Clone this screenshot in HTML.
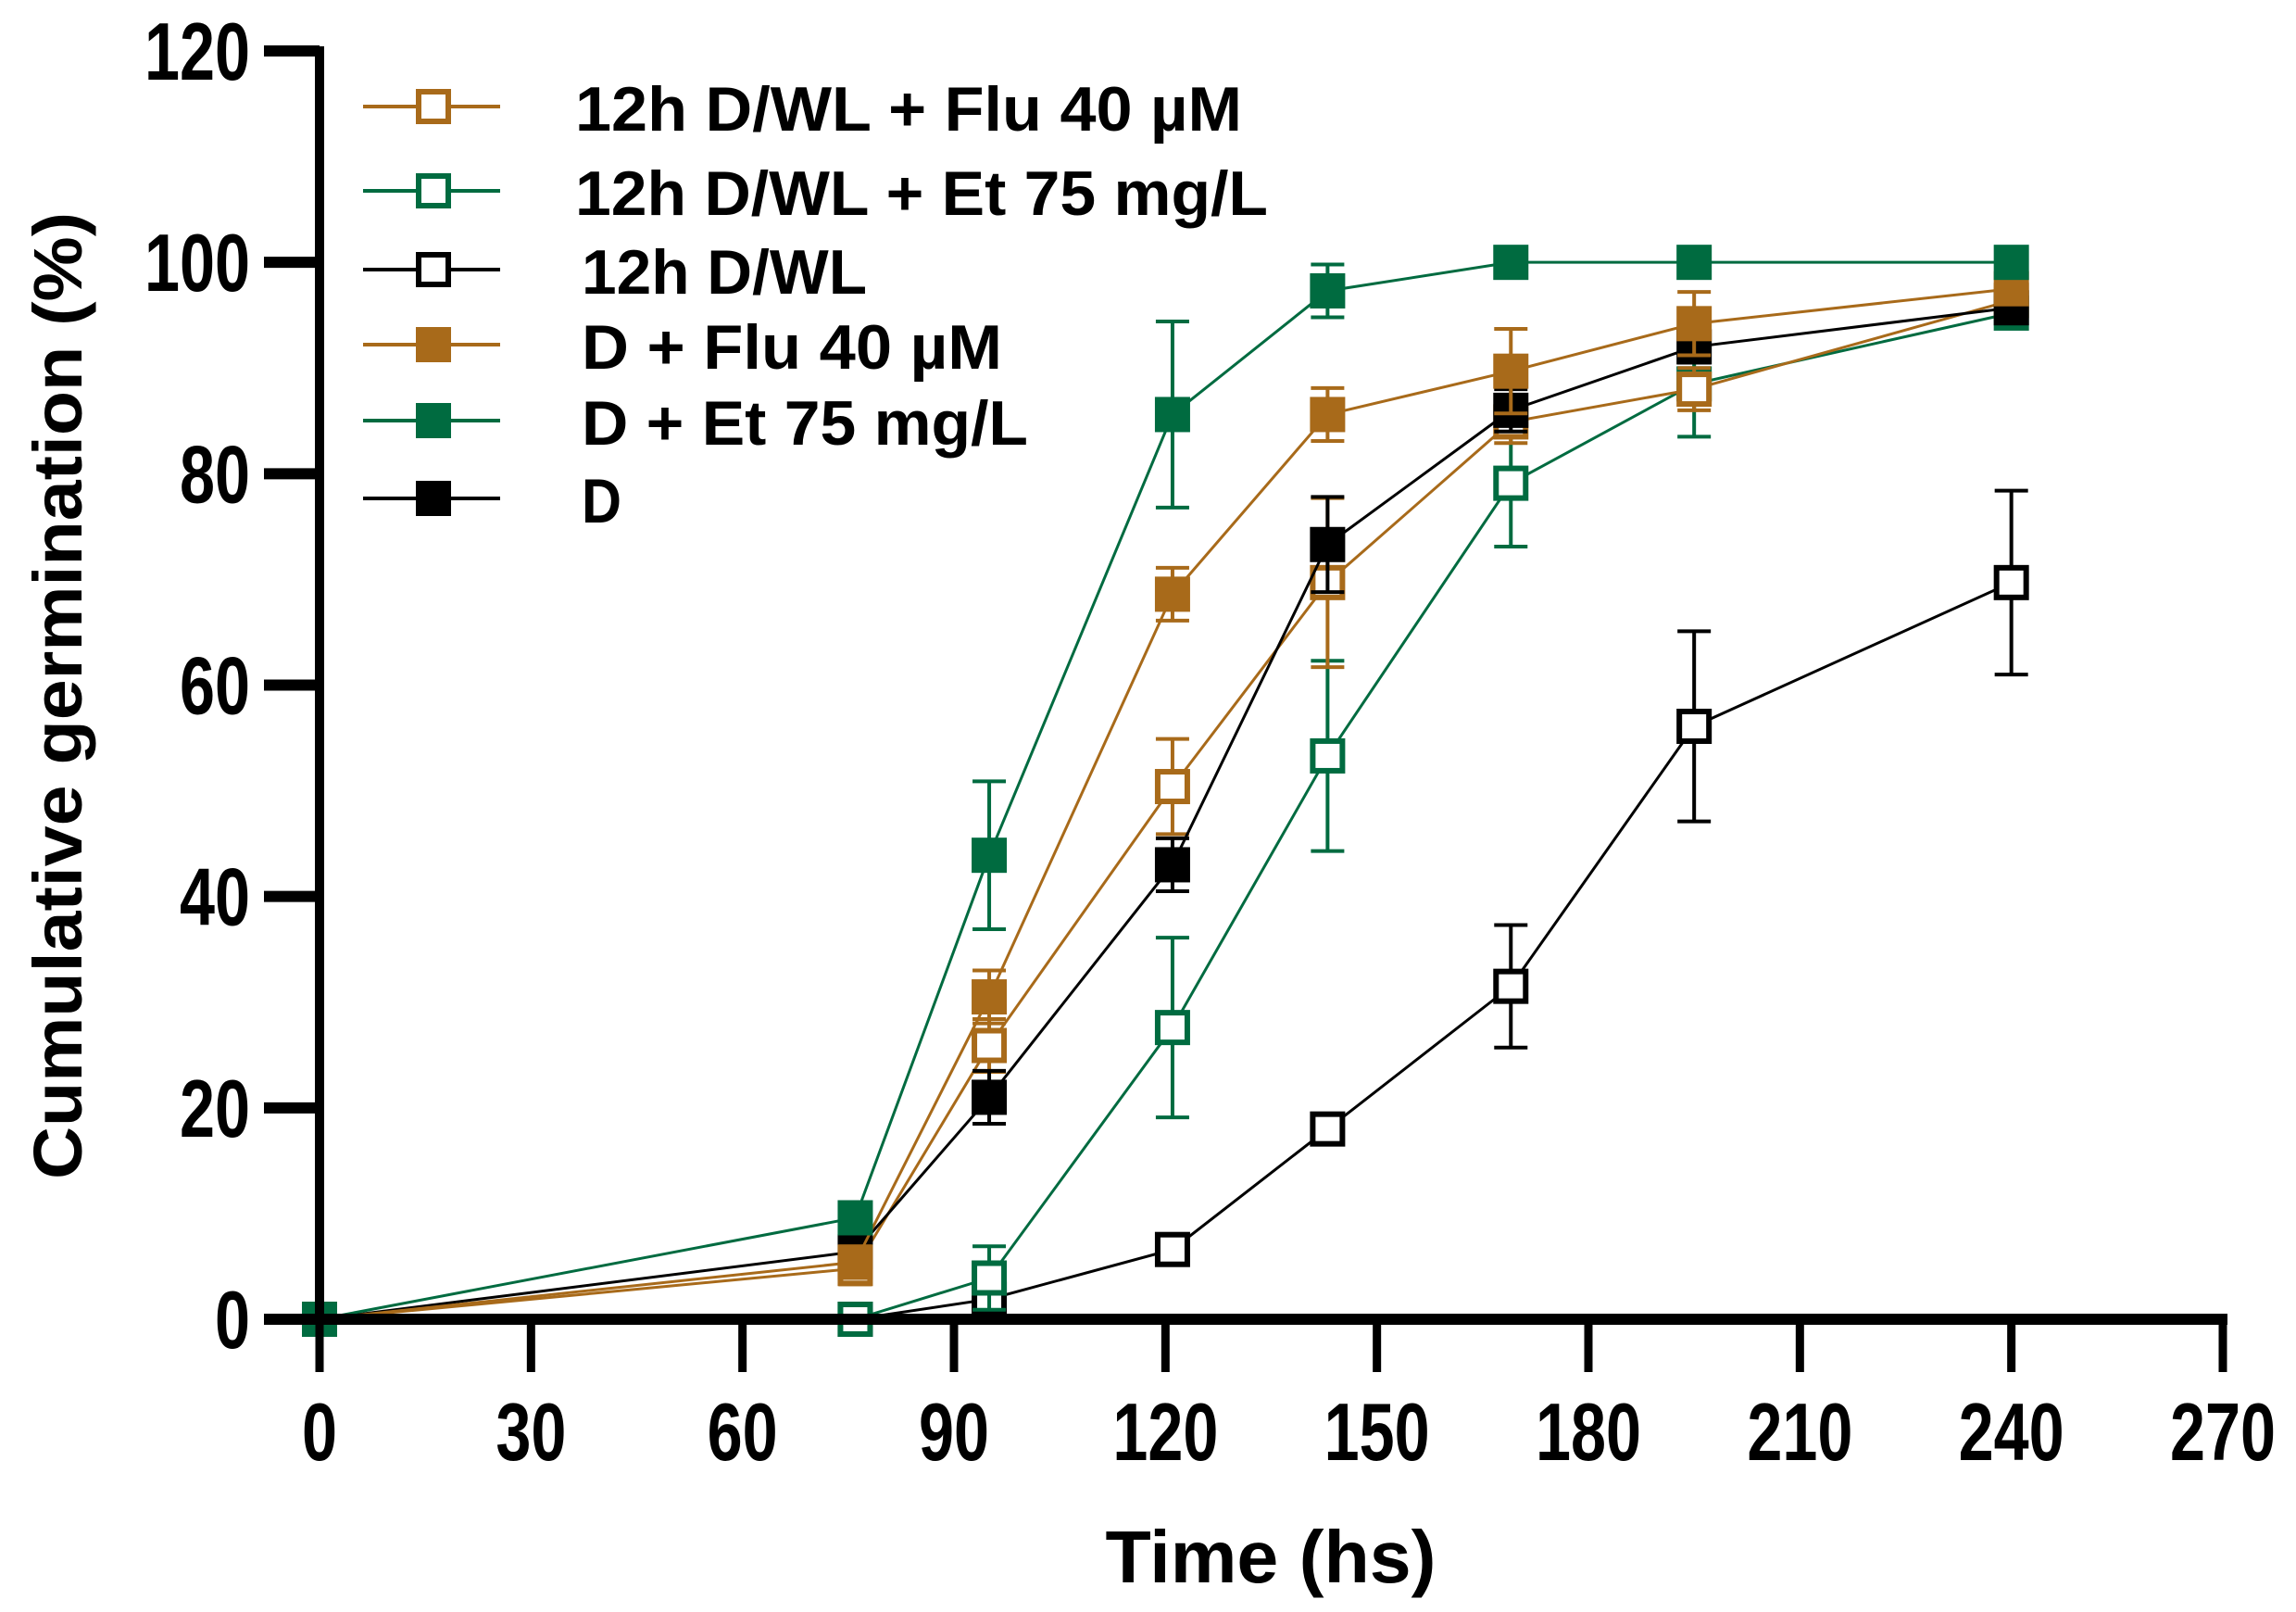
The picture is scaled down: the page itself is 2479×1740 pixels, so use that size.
<!DOCTYPE html>
<html><head><meta charset="utf-8"><style>
html,body{margin:0;padding:0;background:#fff;}
svg{display:block;}
text{font-family:"Liberation Sans",Arial,sans-serif;font-weight:bold;fill:#000;}
</style></head>
<body>
<svg id="chart" width="2479" height="1740" viewBox="0 0 2479 1740" xmlns="http://www.w3.org/2000/svg">
<g id="series"></g>
<g id="axes"></g>
<g id="legend"></g>
</svg>
<script>
const times = [0, 76, 95, 121, 143, 169, 195, 240];
const xTicks = [0, 30, 60, 90, 120, 150, 180, 210, 240, 270];
const yTicks = [0, 20, 40, 60, 80, 100, 120];
const seriesNames = ["12h D/WL + Flu 40 µM", "12h D/WL + Et 75 mg/L", "12h D/WL", "D + Flu 40 µM", "D + Et 75 mg/L", "D"];
const wlFluVals = [0, 4.8, 25.9, 50.4, 69.7, 84.9, 88, 96.4];
const wlFluErr = [0, 1.5, 2.5, 4.5, 8, 2, 2, 1];
const wlEtVals = [0, 0, 3.9, 27.6, 53.3, 79.1, 88.5, 95.2];
const wlEtErr = [0, 0.5, 3, 8.5, 9, 6, 5, 1];
const wlVals = [0, 0, 1.9, 6.6, 18, 31.5, 56.1, 69.7];
const wlErr = [0, 0, 0.5, 1, 1, 5.8, 9, 8.7];
const dFluVals = [0, 5.4, 30.5, 68.6, 85.6, 89.7, 94.2, 97.5];
const dFluErr = [0, 1.5, 2.5, 2.5, 2.5, 4, 3, 1];
const dEtVals = [0, 9.6, 43.9, 85.6, 97.3, 100, 100, 100];
const dEtErr = [0, 0.5, 7, 8.8, 2.5, 0, 0, 0];
const dVals = [0, 6.4, 21, 43, 73.3, 86, 92, 95.7];
const dErr = [0, 1, 2.5, 2.5, 4.5, 2, 1.5, 1];

const BROWN = "#a86a1a", GREEN = "#006b40", BLACK = "#000";
const X0 = 345, X1 = 2400, Y0 = 1424, Y1 = 55;
function xs(v){ return X0 + (v/270)*(X1-X0); }
function ys(v){ return Y0 - (v/120)*(Y0-Y1); }
const NS = "http://www.w3.org/2000/svg";
function mk(tag, attrs, parent){
  const e = document.createElementNS(NS, tag);
  for (const k in attrs) e.setAttribute(k, attrs[k]);
  parent.appendChild(e); return e;
}
const gS = document.getElementById("series");
const gA = document.getElementById("axes");
const gL = document.getElementById("legend");

const series = [
  {vals: wlVals, err: wlErr, color: BLACK, filled: false, key:"wl"},
  {vals: wlEtVals, err: wlEtErr, color: GREEN, filled: false, key:"wl-et"},
  {vals: wlFluVals, err: wlFluErr, color: BROWN, filled: false, key:"wl-flu"},
  {vals: dVals, err: dErr, color: BLACK, filled: true, key:"d"},
  {vals: dFluVals, err: dFluErr, color: BROWN, filled: true, key:"d-flu"},
  {vals: dEtVals, err: dEtErr, color: GREEN, filled: true, key:"d-et"}
];
series.forEach(s => {
  const g = mk("g", {}, gS);
  
  
  const pts = s.vals.map((v,i)=> xs(times[i]) + "," + ys(v)).join(" ");
  const pl = mk("polyline", {points: pts, fill:"none", stroke:s.color, "stroke-width":3}, g);
  
  
  s.vals.forEach((v,i)=>{
    const x = xs(times[i]);
    if (s.err[i] > 0.6) {
      const eb = mk("path", {d:`M${x},${ys(v+s.err[i])}V${ys(v-s.err[i])}M${x-18},${ys(v+s.err[i])}h36M${x-18},${ys(v-s.err[i])}h36`, stroke:s.color, "stroke-width":4, fill:"none"}, g);
      
      
    }
    const r = mk("rect", {x:x-19, y:ys(v)-19, width:38, height:38,
      fill: s.filled ? s.color : "#fff", stroke:s.color, "stroke-width": s.filled?0:6}, g);
    if (!s.filled) { r.setAttribute("x", x-16); r.setAttribute("y", ys(v)-16); r.setAttribute("width",32); r.setAttribute("height",32); }
    
    
  });
});

// axes
const yAxis = mk("line", {x1:X0, y1:Y1-5, x2:X0, y2:Y0+6, stroke:"#000", "stroke-width":10}, gA);


const xAxis = mk("line", {x1:X0-60, y1:Y0, x2:X1+5, y2:Y0, stroke:"#000", "stroke-width":12}, gA);


yTicks.forEach(t=>{
  const y = ys(t);
  const tk = mk("line", {x1:X0-60, y1:y, x2:X0, y2:y, stroke:"#000", "stroke-width":12}, gA);
  
  
  const s = String(t);
  const lb = mk("text", {x:270, y:y+31, "text-anchor":"end", "font-size":88, textLength:s.length*38, lengthAdjust:"spacingAndGlyphs"}, gA);
  lb.textContent = s;
  
  
});
xTicks.forEach(t=>{
  const x = xs(t);
  const tk = mk("line", {x1:x, y1:Y0, x2:x, y2:1481, stroke:"#000", "stroke-width":9}, gA);
  
  
  const s = String(t);
  const lb = mk("text", {x:x, y:1576, "text-anchor":"middle", "font-size":88, textLength:s.length*38, lengthAdjust:"spacingAndGlyphs"}, gA);
  lb.textContent = s;
  
  
});
const xt = mk("text", {x:1372, y:1708, "text-anchor":"middle", "font-size":80, textLength:357, lengthAdjust:"spacingAndGlyphs"}, gA);
xt.textContent = "Time (hs)";


const yt = mk("text", {x:0, y:0, "text-anchor":"middle", "font-size":74, textLength:1044, lengthAdjust:"spacingAndGlyphs", transform:"translate(88,751) rotate(-90)"}, gA);
yt.textContent = "Cumulative germination (%)";



// legend
const legY = [115, 206, 291, 372, 454, 538];
const legTX = [621, 621, 628, 628, 628, 628];
const legW = [720, 748, 308, 454, 482, 43];
const legC = [BROWN, GREEN, BLACK, BROWN, GREEN, BLACK];
const legF = [false, false, false, true, true, true];
seriesNames.forEach((n,i)=>{
  const g = mk("g", {}, gL);
  
  
  const y = legY[i];
  mk("line", {x1:392, y1:y, x2:540, y2:y, stroke:legC[i], "stroke-width":4}, g);
  if (legF[i]) mk("rect", {x:449, y:y-19, width:38, height:38, fill:legC[i]}, g);
  else mk("rect", {x:452, y:y-16, width:32, height:32, fill:"#fff", stroke:legC[i], "stroke-width":6}, g);
  const t = mk("text", {x:legTX[i], y:y+26, "font-size":68, textLength:legW[i], lengthAdjust:"spacingAndGlyphs"}, g);
  t.textContent = n;
});
</script>
</body></html>
